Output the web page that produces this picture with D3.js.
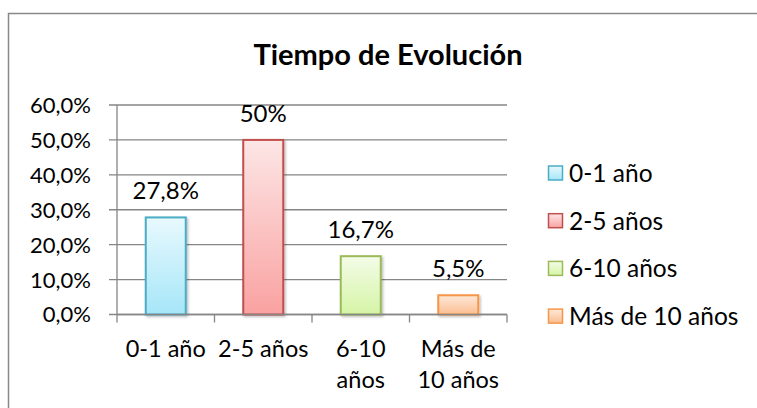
<!DOCTYPE html>
<html>
<head>
<meta charset="utf-8">
<script src="https://cdn.jsdelivr.net/npm/d3@7"></script>
<style>
  body { margin: 0; background: #fff; }
  svg { display: block; font-family: Lato, "Noto Sans", sans-serif; }
</style>
</head>
<body>
<div id="chart"></div>
<script>
const categories = ["0-1 año", "2-5 años", "6-10 años", "Más de 10 años"];
const categoryLines = [["0-1 año"], ["2-5 años"], ["6-10", "años"], ["Más de", "10 años"]];
const values = [27.8, 50, 16.7, 5.5];
const valueLabels = ["27,8%", "50%", "16,7%", "5,5%"];
const yTicks = [0, 10, 20, 30, 40, 50, 60];
const title = "Tiempo de Evolución";

const colors = [
  { top: "#e8f9fe", bottom: "#a6e6f8", stroke: "#4bacc6" },
  { top: "#fde6e6", bottom: "#f9a2a1", stroke: "#c0504d" },
  { top: "#f4fce8", bottom: "#d5f4a6", stroke: "#9bbb59" },
  { top: "#fee9da", bottom: "#fbbd90", stroke: "#f79646" }
];

const width = 757, height = 408;
const plot = { left: 117, right: 507, top: 105, bottom: 314.5 };

const svg = d3.select("#chart").append("svg")
  .attr("width", width)
  .attr("height", height);

const defs = svg.append("defs");
colors.forEach((c, i) => {
  const g = defs.append("linearGradient")
    .attr("id", "grad" + i)
    .attr("x1", 0).attr("y1", 0).attr("x2", 0).attr("y2", 1);
  g.append("stop").attr("offset", "0%").attr("stop-color", c.top);
  g.append("stop").attr("offset", "100%").attr("stop-color", c.bottom);
});
defs.append("filter").attr("id", "shadow")
  .attr("x", "-20%").attr("y", "-20%").attr("width", "150%").attr("height", "150%")
  .append("feDropShadow")
    .attr("dx", 1.5).attr("dy", 1.5).attr("stdDeviation", 1.2)
    .attr("flood-color", "#000").attr("flood-opacity", 0.25);

// outer border of chart area
svg.append("rect")
  .attr("x", 8.5).attr("y", 13.5)
  .attr("width", 780).attr("height", 420)
  .attr("fill", "none")
  .attr("stroke", "#888")
  .attr("stroke-width", 1.5);

// title
svg.append("text")
  .attr("x", 388).attr("y", 65)
  .attr("text-anchor", "middle")
  .attr("font-size", 29)
  .attr("font-weight", "bold")
  .attr("fill", "#000")
  .text(title);

const x = d3.scaleBand()
  .domain(categories)
  .range([plot.left, plot.right])
  .padding(0);

const y = d3.scaleLinear()
  .domain([0, 60])
  .range([plot.bottom, plot.top]);

// gridlines
svg.append("g")
  .selectAll("line")
  .data(yTicks)
  .enter().append("line")
    .attr("x1", plot.left - 8)
    .attr("x2", plot.right)
    .attr("y1", d => y(d))
    .attr("y2", d => y(d))
    .attr("stroke", "#868686")
    .attr("stroke-width", 1.3);

// y axis line
svg.append("line")
  .attr("x1", plot.left).attr("x2", plot.left)
  .attr("y1", plot.top).attr("y2", plot.bottom)
  .attr("stroke", "#868686").attr("stroke-width", 1.3);

// y tick labels
const fmt = d => d3.format(".1f")(d).replace(".", ",") + "%";
svg.append("g")
  .selectAll("text")
  .data(yTicks)
  .enter().append("text")
    .attr("x", 91)
    .attr("y", d => y(d))
    .attr("dy", "0.36em")
    .attr("text-anchor", "end")
    .attr("font-size", 22)
    .attr("fill", "#000")
    .text(fmt);

// x axis with ticks between categories
const xTicks = categories.map(c => x(c)).concat([plot.right]);
svg.append("g")
  .selectAll("line")
  .data(xTicks)
  .enter().append("line")
    .attr("x1", d => d).attr("x2", d => d)
    .attr("y1", plot.bottom).attr("y2", plot.bottom + 8)
    .attr("stroke", "#868686").attr("stroke-width", 1.3);

// category labels
const catG = svg.append("g")
  .selectAll("text")
  .data(categories)
  .enter().append("text")
    .attr("text-anchor", "middle")
    .attr("font-size", 23.5)
    .attr("fill", "#000");
catG.each(function (d, i) {
  const t = d3.select(this);
  categoryLines[i].forEach((line, j) => {
    t.append("tspan")
      .attr("x", x(d) + x.bandwidth() / 2)
      .attr("y", 357 + j * 31)
      .text(line);
  });
});

// bars
const barW = 40;
svg.append("g")
  .selectAll("rect")
  .data(values)
  .enter().append("rect")
    .attr("x", (d, i) => x(categories[i]) + (x.bandwidth() - barW) / 2)
    .attr("y", d => y(d))
    .attr("width", barW)
    .attr("height", d => y(0) - y(d))
    .attr("fill", (d, i) => "url(#grad" + i + ")")
    .attr("stroke", (d, i) => colors[i].stroke)
    .attr("stroke-width", 2)
    .attr("filter", "url(#shadow)");

// value labels
svg.append("g")
  .selectAll("text")
  .data(values)
  .enter().append("text")
    .attr("x", (d, i) => x(categories[i]) + x.bandwidth() / 2)
    .attr("y", d => y(d) - 18)
    .attr("text-anchor", "middle")
    .attr("font-size", 24)
    .attr("fill", "#000")
    .text((d, i) => valueLabels[i]);

// x axis baseline on top of bars
svg.append("line")
  .attr("x1", plot.left).attr("x2", plot.right)
  .attr("y1", plot.bottom).attr("y2", plot.bottom)
  .attr("stroke", "#868686").attr("stroke-width", 1.3);

// legend
const legend = svg.append("g")
  .selectAll("g")
  .data(categories)
  .enter().append("g")
    .attr("transform", (d, i) => `translate(548, ${173 + i * 47.7})`);
legend.append("rect")
  .attr("x", 0.5).attr("y", -7)
  .attr("width", 14).attr("height", 14)
  .attr("fill", (d, i) => "url(#grad" + i + ")")
  .attr("stroke", (d, i) => colors[i].stroke)
  .attr("stroke-width", 1.5);
legend.append("text")
  .attr("x", 21).attr("y", 0)
  .attr("dy", "0.36em")
  .attr("font-size", 24.5)
  .attr("fill", "#000")
  .text(d => d);
</script>
</body>
</html>
